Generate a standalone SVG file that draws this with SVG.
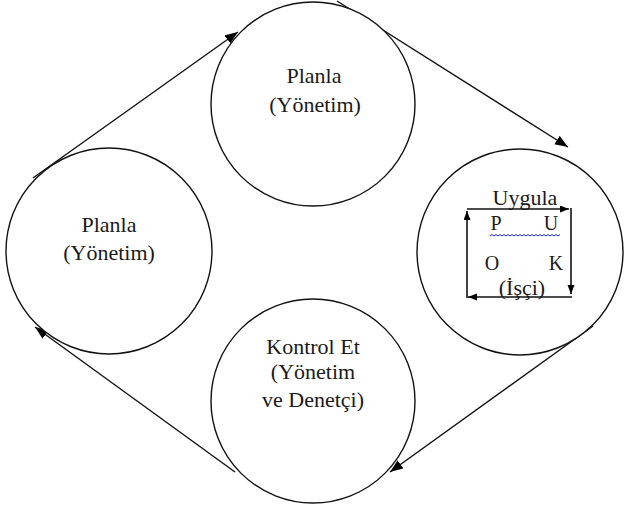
<svg xmlns="http://www.w3.org/2000/svg" width="625" height="512" viewBox="0 0 625 512">
  <style>
    .node { fill: #fff; stroke: #111; stroke-width: 1.4; }
    text { font-family: 'Liberation Serif', 'DejaVu Serif', serif; font-size: 22px; fill: #1a1a1a; text-anchor: middle; }
    .small { font-size: 20px; }
    .conn { fill: none; stroke: #111; stroke-width: 1.4; }
    .box { fill: none; stroke: #111; stroke-width: 1.6; }
  </style>
  <defs>
    <marker id="arrow" markerUnits="userSpaceOnUse" markerWidth="14" markerHeight="11" refX="13" refY="5" orient="auto">
      <path d="M0,0 L13,5 L0,10 z" fill="#000"/>
    </marker>
    <marker id="arrowSmall" markerUnits="userSpaceOnUse" markerWidth="10" markerHeight="8" refX="9" refY="3.5" orient="auto">
      <path d="M0,0 L9,3.5 L0,7 z" fill="#000"/>
    </marker>
  </defs>

  <rect width="625" height="512" fill="#fff"/>

  <!-- connectors between the cycle stages -->
  <g id="connectors">
    <path class="conn" d="M33,178 L238,32" marker-end="url(#arrow)"/>
    <path class="conn" d="M337,1 L568,147" marker-end="url(#arrow)"/>
    <path class="conn" d="M593,326 L390,472" marker-end="url(#arrow)"/>
    <path class="conn" d="M235,472 L35,327" marker-end="url(#arrow)"/>
  </g>

  <g font-family="Liberation Serif, serif">
    <!-- top stage -->
    <g id="plan-top">
      <circle class="node" cx="313" cy="104" r="102"/>
      <text x="314" y="83">Planla</text>
      <text x="315" y="112">(Yönetim)</text>
    </g>

    <!-- left stage -->
    <g id="plan-left">
      <circle class="node" cx="109" cy="251" r="103"/>
      <text x="109" y="232">Planla</text>
      <text x="109" y="260">(Yönetim)</text>
    </g>

    <!-- right stage with the inner PUKO loop -->
    <g id="uygula">
      <circle class="node" cx="520" cy="252" r="103"/>
      <text x="525" y="205">Uygula</text>
      <path class="box" d="M467,209 L569,209" marker-end="url(#arrowSmall)"/>
      <path class="box" d="M571,208 L571,294" marker-end="url(#arrowSmall)"/>
      <path class="box" d="M572,297 L468,297" marker-end="url(#arrowSmall)"/>
      <path class="box" d="M467,298 L467,211" marker-end="url(#arrowSmall)"/>
      <text class="small" x="496" y="230">P</text>
      <text class="small" x="551" y="230">U</text>
      <path d="M490,236 l2,-1.5 2,1.5 2,-1.5 2,1.5 2,-1.5 2,1.5 2,-1.5 2,1.5 2,-1.5 2,1.5 2,-1.5 2,1.5 2,-1.5 2,1.5 2,-1.5 2,1.5 2,-1.5 2,1.5 2,-1.5 2,1.5 2,-1.5 2,1.5 2,-1.5 2,1.5 2,-1.5 2,1.5 2,-1.5 2,1.5 2,-1.5 2,1.5 2,-1.5 2,1.5 2,-1.5 2,1.5 2,-1.5" fill="none" stroke="#1a2bd6" stroke-width="1"/>
      <text class="small" x="492" y="270">O</text>
      <text class="small" x="556" y="270">K</text>
      <text x="522" y="295">(İşçi)</text>
    </g>

    <!-- bottom stage -->
    <g id="kontrol">
      <circle class="node" cx="313" cy="401" r="102"/>
      <text x="313" y="354">Kontrol Et</text>
      <text x="313" y="379">(Yönetim</text>
      <text x="313" y="407">ve Denetçi)</text>
    </g>
  </g>
</svg>
